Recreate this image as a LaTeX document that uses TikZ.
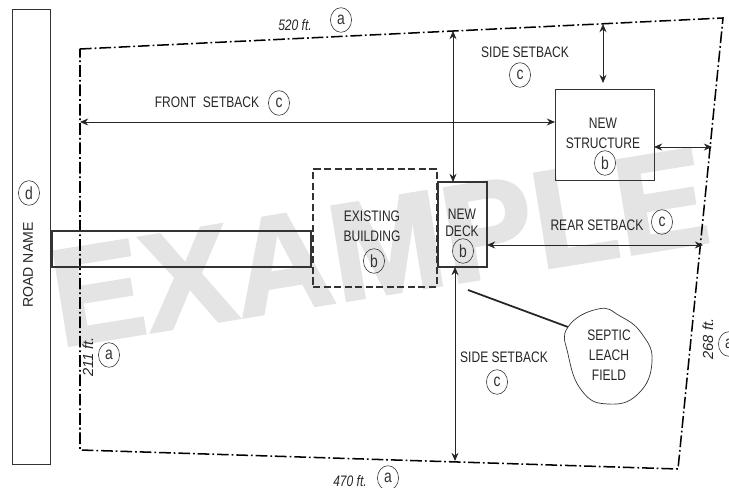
\documentclass[tikz,border=0pt]{standalone}
\usepackage{fontspec}
\setmainfont{Liberation Sans}
\newfontfamily\planfont[FakeStretch=0.79]{Liberation Sans}
\newfontfamily\stampfont[FakeStretch=0.99,BoldFeatures={FakeBold=2}]{Liberation Sans}
\usetikzlibrary{arrows.meta,shapes.geometric}
\definecolor{markgray}{HTML}{E4E4E4}
\tikzset{
	plantext/.style={font=\fontsize{13}{17}\planfont,align=center,inner sep=0pt,text=black!85},
	feettext/.style={font=\fontsize{13}{16}\planfont\itshape,inner sep=0pt,text=black!85},
	sidetext/.style={font=\fontsize{12.5}{16}\selectfont\itshape,inner sep=0pt,rotate=90,text=black!85},
	keymark/.style={draw=black!80,ellipse,line width=0.5pt,minimum width=18pt,minimum height=21pt,inner sep=0pt,font=\fontsize{15}{17}\planfont,text=black!80},
	plotbox/.style={draw=black!80,line width=0.8pt,anchor=north west,inner sep=0pt,outer sep=0pt},
	lotline/.style={line width=1.3pt,dash pattern=on 10pt off 2.5pt on 1.5pt off 2.5pt},
	setback/.style={<->,line width=0.7pt,draw=black!85},
}
\begin{document}
\begin{tikzpicture}[>={Stealth[length=7pt,width=6pt]},x=0.03cm,y=-0.03cm]
	\useasboundingbox (0,0) rectangle (729,488);
	\clip (0,0) rectangle (729,488);
	% watermark
	\node[anchor=base west,inner sep=0pt,rotate=9.2,text=markgray,font=\fontsize{118}{118}\stampfont\bfseries] (stamp) at (60,347) {EXAMPLE};
	% lot
	\coordinate (lotnw) at (80,49);
	\coordinate (lotne) at (723,18);
	\coordinate (lotse) at (678,469);
	\coordinate (lotsw) at (80,450);
	\draw[lotline] (lotnw) -- (lotne) -- (lotse) -- (lotsw) -- cycle;
	% road, drive and buildings
	\node[plotbox,minimum width=1.14cm,minimum height=13.65cm] (roadbox) at (12,9) {};
	\node[plotbox,line width=1.8pt,minimum width=7.77cm,minimum height=1.08cm] (drive) at (52,231) {};
	\node[plotbox,line width=1.5pt,dash pattern=on 6pt off 3pt,minimum width=3.72cm,minimum height=3.54cm] (existing) at (313,169) {};
	\node[plotbox,line width=1.2pt,minimum width=1.47cm,minimum height=2.55cm] (newdeck) at (438,182) {};
	\node[plotbox,minimum width=2.97cm,minimum height=2.73cm] (newstruct) at (555,89) {};
	% setbacks
	\coordinate (frontend) at (80,122);
	\coordinate (sidetop) at (453,31);
	\coordinate (sidefoot) at (455,461);
	\coordinate (northend) at (603,24);
	\coordinate (northtip) at (603,83);
	\coordinate (eastend) at (712,147);
	\coordinate (rearend) at (703,245);
	\draw[setback] (frontend) -- (newstruct.west |- frontend);
	\draw[setback] (sidetop) -- (sidetop |- newdeck.north);
	\draw[setback] (sidefoot |- newdeck.south) -- (sidefoot);
	\draw[setback] (northend) -- (northtip);
	\draw[setback] (newstruct.east |- eastend) -- (eastend);
	\draw[setback] (newdeck.east |- rearend) -- (rearend);
	% leach field
	\coordinate (leachstart) at (468,290);
	\coordinate (leachedge) at (568,327);
	\draw[line width=1.5pt,black!85] (leachstart) -- (leachedge);
	\draw[line width=0.6pt,black!80,smooth cycle,tension=0.8] plot coordinates {(598,309) (568,327) (568,354) (582,391) (608,404) (638,394) (652,362) (642,334) (620,316)};
	% labels
	\node[feettext] (topfeet) at (295,25) {520 ft.};
	\node[keymark] (topkey) at (341,20) {a};
	\node[feettext] (footfeet) at (350,481) {470 ft.};
	\node[keymark] (footkey) at (388,478) {a};
	\node[sidetext] (leftfeet) at (88,357) {211 ft.};
	\node[keymark] (leftkey) at (109,355) {a};
	\node[sidetext] (rightfeet) at (708,339) {268 ft.};
	\node[keymark] (rightkey) at (729,344) {a};
	\node[font=\fontsize{12}{16}\selectfont,inner sep=0pt,rotate=90,text=black!85] (roadname) at (28,265) {ROAD NAME};
	\node[keymark] (roadkey) at (29,193) {d};
	\node[plantext] (fronttext) at (207,102) {FRONT~~SETBACK};
	\node[keymark] (frontkey) at (279,103) {c};
	\node[plantext] (sidetext) at (525,52) {SIDE SETBACK};
	\node[keymark] (sidekey) at (520,75) {c};
	\node[plantext] (structtext) at (603,133) {NEW\\STRUCTURE};
	\node[keymark] (structkey) at (605,163) {b};
	\node[plantext] (existtext) at (372,226) {EXISTING\\BUILDING};
	\node[keymark] (existkey) at (374,261) {b};
	\node[plantext,font=\fontsize{13}{15}\planfont] (decktext) at (462,223) {NEW\\DECK};
	\node[keymark] (deckkey) at (463,251) {b};
	\node[plantext] (reartext) at (597,225) {REAR SETBACK};
	\node[keymark] (rearkey) at (662,222) {c};
	\node[plantext] (lowertext) at (504,357) {SIDE SETBACK};
	\node[keymark] (lowerkey) at (497,382) {c};
	\node[plantext] (leachtext) at (609,355) {SEPTIC\\LEACH\\FIELD};
\end{tikzpicture}
\end{document}
